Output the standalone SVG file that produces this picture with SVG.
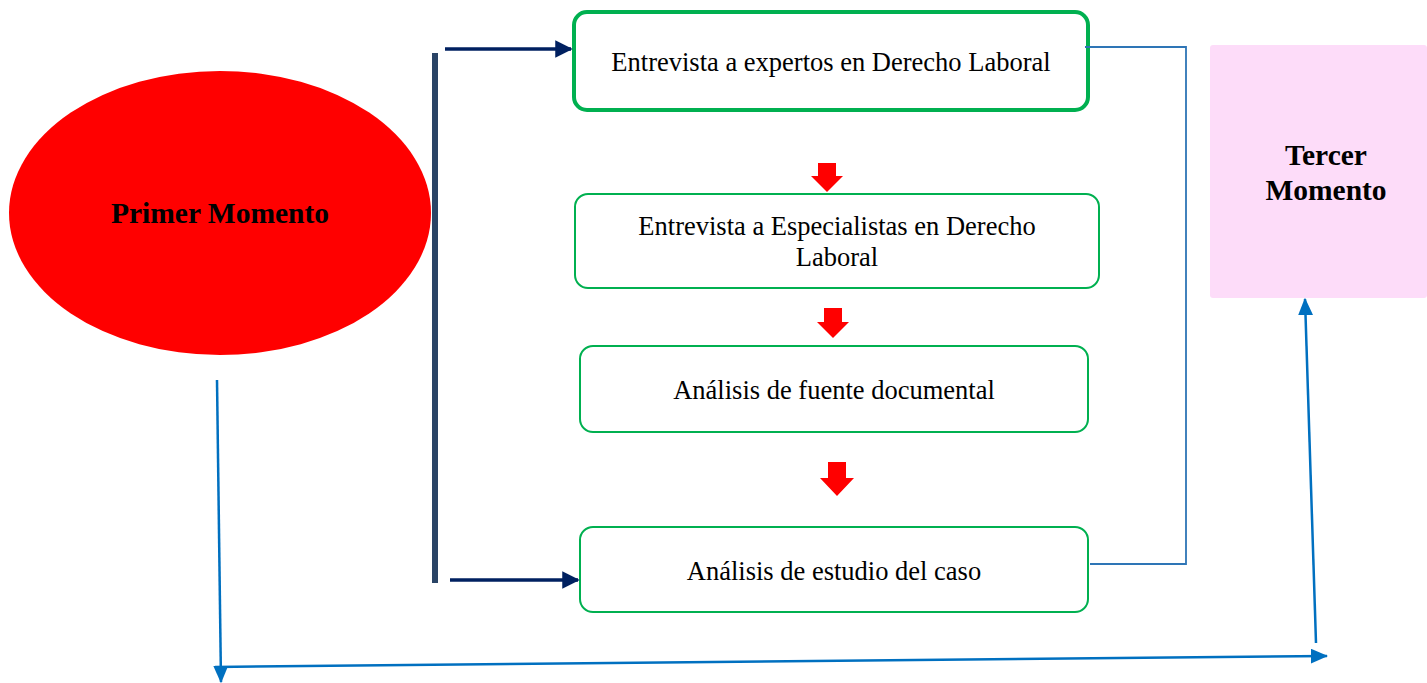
<svg xmlns="http://www.w3.org/2000/svg" width="1427" height="683" viewBox="0 0 1427 683">
<style>
.t{font-family:"Liberation Serif","Times New Roman",serif;font-size:26.5px;fill:#000;text-anchor:middle}
.b{font-family:"Liberation Serif","Times New Roman",serif;font-size:29.5px;font-weight:bold;fill:#000;text-anchor:middle}
.box{fill:#fff;stroke:#00b050;stroke-width:2}
.navy{stroke:#002060;stroke-width:3.5;fill:none}
.blue{stroke:#0070c0;stroke-width:2.5;fill:none}
.thin{stroke:#2e75b6;stroke-width:1.8;fill:none}
.red{fill:#ff0000}
</style>
<defs>
<marker id="mn" markerWidth="5" markerHeight="5" refX="4.5" refY="2.5" orient="auto" markerUnits="strokeWidth"><path d="M0,0 L5,2.5 L0,5 Z" fill="#002060"/></marker>
<marker id="mb" markerWidth="7" markerHeight="6" refX="6.5" refY="3" orient="auto" markerUnits="strokeWidth"><path d="M0,0 L7,3 L0,6 Z" fill="#0070c0"/></marker>
</defs>
<g id="primer">
<ellipse cx="220" cy="213" rx="211" ry="142" fill="#ff0000"/>
<text class="b" x="220" y="223">Primer Momento</text>
</g>
<g id="tercer">
<rect x="1210" y="45" width="217" height="253" rx="3" fill="#fddcf9"/>
<text class="b" x="1326" y="165">Tercer</text>
<text class="b" x="1326" y="200">Momento</text>
</g>
<g id="n1">
<rect x="574" y="12" width="514" height="98" rx="13" fill="#fff" stroke="#00b050" stroke-width="4"/>
<text class="t" x="831" y="71">Entrevista a expertos en Derecho Laboral</text>
</g>
<g id="n2">
<rect class="box" x="575" y="194" width="524" height="94" rx="13"/>
<text class="t" x="837" y="235">Entrevista a Especialistas en Derecho</text>
<text class="t" x="837" y="266">Laboral</text>
</g>
<g id="n3">
<rect class="box" x="580" y="346" width="508" height="86" rx="13"/>
<text class="t" x="834" y="399">Análisis de fuente documental</text>
</g>
<g id="n4">
<rect class="box" x="580" y="527" width="508" height="85" rx="13"/>
<text class="t" x="834" y="580">Análisis de estudio del caso</text>
</g>
<g id="connectors">
<rect x="432" y="53" width="6" height="530" fill="#2a4466"/>
<line class="navy" x1="445" y1="49" x2="571" y2="49" marker-end="url(#mn)"/>
<line class="navy" x1="450" y1="580" x2="578" y2="580" marker-end="url(#mn)"/>
<path class="red" d="M818,163 H836 V176 H843 L827,192 L811,176 H818 Z"/>
<path class="red" d="M824,308 H842 V322 H849 L833,338 L817,322 H824 Z"/>
<path class="red" d="M828,462 H846 V478 H854 L837,496 L820,478 H828 Z"/>
<polyline class="thin" points="1085,47 1186,47 1186,564 1090,564"/>
<line class="blue" x1="217" y1="380" x2="221" y2="682" marker-end="url(#mb)"/>
<line class="blue" x1="215" y1="667" x2="1327" y2="656" marker-end="url(#mb)"/>
<line class="blue" x1="1316" y1="643" x2="1305" y2="299" marker-end="url(#mb)"/>
</g>
</svg>
